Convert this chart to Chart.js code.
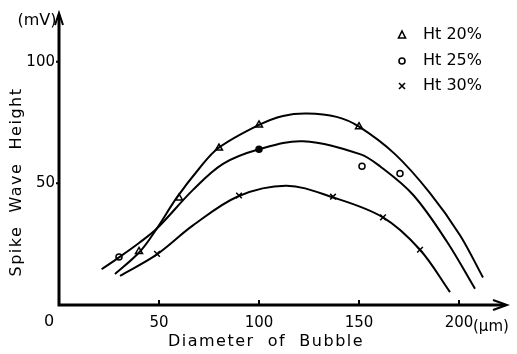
<!doctype html>
<html>
<head>
<title>Spike Wave Height</title>
<script src="https://cdn.jsdelivr.net/npm/chart.js@4"></script>
<style>body{margin:0;background:#fff}</style>
</head>
<body>
<div style="width:517px;height:354px">
	<canvas id="chart" width="517" height="354"></canvas>
</div>
<script>
	// measured points (diameter um, height mV)
	var tri20X = [40, 60, 80, 100, 150];
	var tri20Y = [22, 44, 64.5, 74, 73.3];
	var circ25X = [30, 100, 151.5, 170.5];
	var circ25Y = [19.7, 64, 57, 54];
	var cross30X = [49, 90, 137, 162, 180.5];
	var cross30Y = [21, 45, 44.5, 36, 22.7];

	// hand drawn fitted curves
	var curve20X = [28, 40.5, 48.8, 58.8, 70, 79.7, 100, 112, 124, 138.8, 150, 168, 185.5, 200.5, 212];
	var curve20Y = [12.7, 22, 31.3, 44, 56, 64.5, 74, 77.7, 78.7, 77.3, 73.3, 62, 46, 28.7, 11.3];
	var curve25X = [21.3, 30.2, 40, 48.8, 67, 82, 100, 122, 150.5, 160.5, 177, 194, 208];
	var curve25Y = [14.7, 19.7, 25.5, 31.3, 47.3, 58, 64, 67.3, 62, 57, 45.3, 26, 6.7];
	var curve30X = [30.5, 48.8, 67, 89.7, 113.8, 136.3, 162, 180.5, 195.5];
	var curve30Y = [12, 20.7, 32.7, 44.7, 49, 44.4, 36, 22.7, 5.3];

	var xTicks = [50, 100, 150, 200];
	var yTicks = [50, 100];
	var seriesNames = ['Ht 20%', 'Ht 25%', 'Ht 30%'];

	function pts(xs, ys) {
		return xs.map(function(x, i) { return {x: x, y: ys[i]}; });
	}

	function curve(xs, ys) {
		return {
			data: pts(xs, ys),
			showLine: true,
			borderColor: '#000',
			borderWidth: 2,
			pointRadius: 0,
			tension: 0.35
		};
	}

	var font = '"DejaVu Sans", sans-serif';

	var decor = {
		id: 'decor',
		afterDraw: function(chart) {
			var ctx = chart.ctx;
			var a = chart.chartArea;
			var xs = chart.scales.x, ys = chart.scales.y;
			ctx.save();
			ctx.strokeStyle = '#000';
			ctx.fillStyle = '#000';
			// axes with arrows
			ctx.lineWidth = 3;
			ctx.beginPath();
			ctx.moveTo(a.left, a.top + 2);
			ctx.lineTo(a.left, a.bottom);
			ctx.lineTo(a.right - 2, a.bottom);
			ctx.stroke();
			ctx.lineWidth = 2;
			ctx.beginPath();
			ctx.moveTo(a.left - 4, a.top + 12);
			ctx.lineTo(a.left, a.top);
			ctx.lineTo(a.left + 4, a.top + 12);
			ctx.moveTo(a.right - 14, a.bottom - 5);
			ctx.lineTo(a.right, a.bottom);
			ctx.lineTo(a.right - 14, a.bottom + 5);
			ctx.stroke();
			// tick marks
			ctx.lineWidth = 2;
			ctx.beginPath();
			xTicks.forEach(function(v) {
				var p = xs.getPixelForValue(v);
				ctx.moveTo(p, a.bottom);
				ctx.lineTo(p, a.bottom - 5);
			});
			yTicks.forEach(function(v) {
				var p = ys.getPixelForValue(v);
				ctx.moveTo(a.left, p);
				ctx.lineTo(a.left - 3, p);
			});
			ctx.stroke();
			// texts
			ctx.textBaseline = 'middle';
			ctx.textAlign = 'center';
			ctx.font = '16px ' + font;
			ctx.fillText('0', 49, 322);
			ctx.fillText('(mV)', 37, 21);
			ctx.font = '15px ' + font;
			ctx.textAlign = 'left';
			ctx.fillText('(\u03bcm)', 473, 327);
			ctx.font = '16px ' + font;
			ctx.textAlign = 'center';
			ctx.letterSpacing = '1.5px';
			ctx.fillText('Diameter  of  Bubble', 266, 342);
			ctx.save();
			ctx.translate(17, 182);
			ctx.rotate(-Math.PI / 2);
			ctx.fillText('Spike  Wave  Height', 0, 0);
			ctx.restore();
			ctx.letterSpacing = '0px';
			// legend
			var lx = 402, ly = [35, 61, 86];
			ctx.lineWidth = 1.6;
			ctx.beginPath();
			ctx.moveTo(lx, ly[0] - 4);
			ctx.lineTo(lx + 3.5, ly[0] + 3);
			ctx.lineTo(lx - 3.5, ly[0] + 3);
			ctx.closePath();
			ctx.stroke();
			ctx.beginPath();
			ctx.arc(lx, ly[1], 3, 0, Math.PI * 2);
			ctx.stroke();
			ctx.beginPath();
			ctx.moveTo(lx - 3, ly[2] - 3);
			ctx.lineTo(lx + 3, ly[2] + 3);
			ctx.moveTo(lx + 3, ly[2] - 3);
			ctx.lineTo(lx - 3, ly[2] + 3);
			ctx.stroke();
			ctx.font = '16px ' + font;
			ctx.textAlign = 'left';
			seriesNames.forEach(function(n, i) {
				ctx.fillText(n, 423, ly[i]);
			});
			ctx.restore();
		}
	};

	var config = {
		type: 'scatter',
		data: {
			datasets: [
				curve(curve20X, curve20Y),
				curve(curve25X, curve25Y),
				curve(curve30X, curve30Y),
				{
					label: seriesNames[0],
					data: pts(tri20X, tri20Y),
					pointStyle: 'triangle',
					pointRadius: 4,
					borderColor: '#000',
					borderWidth: 1.5,
					backgroundColor: '#fff'
				},
				{
					label: seriesNames[1],
					data: pts(circ25X, circ25Y),
					pointStyle: 'circle',
					pointRadius: 3,
					borderColor: '#000',
					borderWidth: 1.5,
					backgroundColor: ['#fff', '#000', '#fff', '#fff']
				},
				{
					label: seriesNames[2],
					data: pts(cross30X, cross30Y),
					pointStyle: 'crossRot',
					pointRadius: 4,
					borderColor: '#000',
					borderWidth: 1.5
				}
			]
		},
		options: {
			responsive: false,
			animation: false,
			layout: {padding: {top: 5, right: 10, left: 0, bottom: 0}},
			plugins: {legend: {display: false}, tooltip: {enabled: false}},
			scales: {
				x: {
					type: 'linear',
					min: 0,
					max: 224,
					grid: {display: false, drawTicks: false},
					border: {display: false},
					afterFit: function(s) { s.height = 49; },
					ticks: {
						stepSize: 50,
						padding: 9,
						color: '#000',
						font: {family: font, size: 15},
						maxRotation: 0,
						callback: function(v) { return xTicks.indexOf(v) >= 0 ? String(v) : ''; }
					}
				},
				y: {
					type: 'linear',
					min: 0,
					max: 120,
					grid: {display: false, drawTicks: false},
					border: {display: false},
					afterFit: function(s) { s.width = 59; },
					ticks: {
						stepSize: 50,
						padding: 4,
						color: '#000',
						font: {family: font, size: 15},
						callback: function(v) { return yTicks.indexOf(v) >= 0 ? String(v) : ''; }
					}
				}
			}
		},
		plugins: [decor]
	};

	window.onload = function() {
		var ctx = document.getElementById('chart').getContext('2d');
		window.myChart = new Chart(ctx, config);
	};
</script>
</body>
</html>
